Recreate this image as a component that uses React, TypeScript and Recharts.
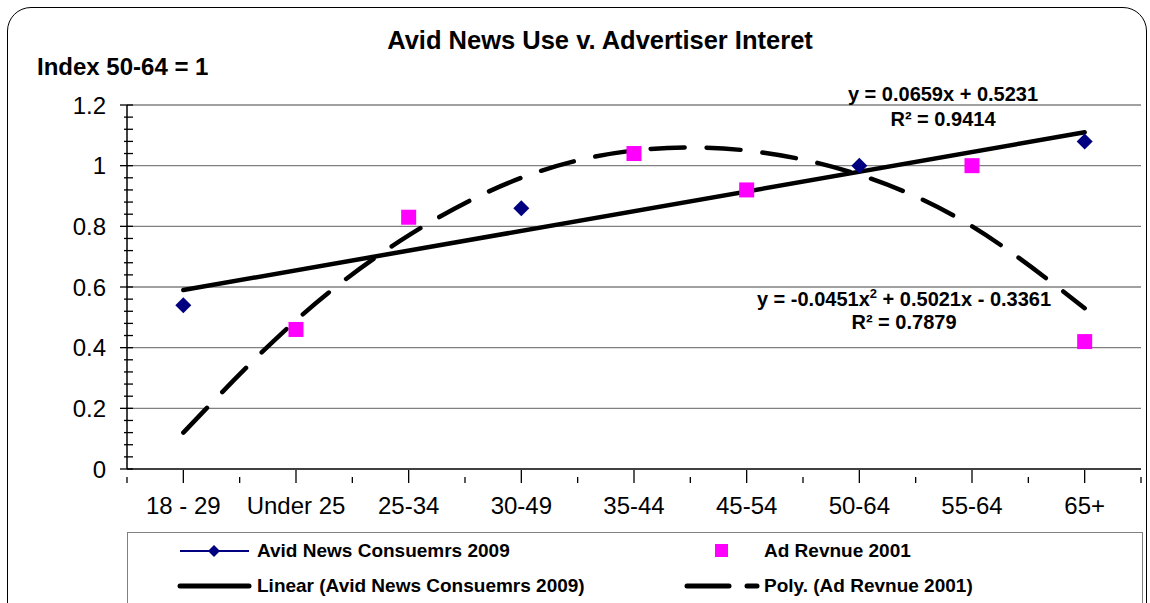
import React from "react";
import {
  CartesianGrid,
  Line,
  LineChart,
  XAxis,
  YAxis
} from "recharts";

// age groups on the x axis
const ageGroups = [
  "18 - 29",
  "Under 25",
  "25-34",
  "30-49",
  "35-44",
  "45-54",
  "50-64",
  "55-64",
  "65+"
];

// index values, 50-64 = 1
const avidNews2009 = [0.54, null, null, 0.86, null, null, 1.0, null, 1.08];
const adRevenue2001 = [null, 0.46, 0.83, null, 1.04, 0.92, null, 1.0, 0.42];

// trendlines as drawn by the spreadsheet
const linearTrend = [0.59, null, null, null, null, null, null, null, 1.11];
const polyTrend = [0.12, 0.49, 0.77, 0.96, 1.05, 1.05, 0.97, 0.8, 0.53];

const majorTicks = [0.2, 0.4, 0.6, 0.8, 1, 1.2];
const minorTicks = Array.from({ length: 31 }, (_, i) => Math.round(i * 4) / 100);

const data = ageGroups.map((age, i) => ({
  age,
  avid: avidNews2009[i],
  ad: adRevenue2001[i],
  linear: linearTrend[i],
  poly: polyTrend[i]
}));

const FONT = 'Arial, "Liberation Sans", sans-serif';
const NAVY = "#000080";
const MAGENTA = "#FF00FF";
const GRID = "#808080";
const AXIS_X = 127;

const Diamond = (props: any) => {
  const { cx, cy, index } = props;
  if (cx == null || cy == null) return <g key={`d${index}`} />;
  const r = 8;
  return (
    <polygon
      key={`d${index}`}
      points={`${cx},${cy - r} ${cx + r},${cy} ${cx},${cy + r} ${cx - r},${cy}`}
      fill={NAVY}
    />
  );
};

const Square = (props: any) => {
  const { cx, cy, index } = props;
  if (cx == null || cy == null) return <g key={`s${index}`} />;
  return (
    <rect key={`s${index}`} x={cx - 7.5} y={cy - 7.5} width={15} height={15} fill={MAGENTA} />
  );
};

const XTick = (props: any) => {
  const { x, y, payload } = props;
  const half = 1014 / 9 / 2;
  return (
    <g>
      <line x1={x} x2={x} y1={y - 7} y2={y + 6} stroke="#000" strokeWidth={1.3} />
      <line x1={x + half} x2={x + half} y1={y} y2={y + 6} stroke="#000" strokeWidth={1.3} />
      {payload.index === 0 && (
        <line x1={x - half} x2={x - half} y1={y} y2={y + 6} stroke="#000" strokeWidth={1.3} />
      )}
      <text x={x} y={y + 37} textAnchor="middle" fontSize={24} fontFamily={FONT} fill="#000">
        {payload.value}
      </text>
    </g>
  );
};

const YTick = (props: any) => {
  const { y, payload } = props;
  const v = payload.value;
  const major = Math.round(v * 100) % 20 === 0;
  return (
    <g>
      <line
        x1={major ? AXIS_X - 7 : AXIS_X - 3}
        x2={AXIS_X + 6}
        y1={y}
        y2={y}
        stroke="#000"
        strokeWidth={1.3}
      />
      {major && (
        <text x={AXIS_X - 21} y={y + 8.5} textAnchor="end" fontSize={24} fontFamily={FONT} fill="#000">
          {String(Math.round(v * 10) / 10)}
        </text>
      )}
    </g>
  );
};

const legendText: React.CSSProperties = {
  position: "absolute",
  fontSize: 19,
  fontWeight: "bold",
  fontFamily: FONT,
  lineHeight: "22px",
  whiteSpace: "nowrap"
};

const LegendBox = () => (
  <div
    style={{
      position: "absolute",
      left: 127,
      top: 532,
      width: 1014,
      height: 100,
      border: `1.5px solid ${GRID}`,
      background: "#fff"
    }}>
    <svg width={1014} height={100} style={{ position: "absolute", left: 0, top: 0 }}>
      <line x1={52} x2={121} y1={18} y2={18} stroke={NAVY} strokeWidth={2} />
      <polygon points="86,12 92,18 86,24 80,18" fill={NAVY} />
      <line x1={52} x2={121} y1={53} y2={53} stroke="#000" strokeWidth={5} strokeLinecap="round" />
      <rect x={587} y={11} width={13} height={13} fill={MAGENTA} />
      <line x1={559} x2={601} y1={53} y2={53} stroke="#000" strokeWidth={5} strokeLinecap="round" />
      <line x1={619} x2={629} y1={53} y2={53} stroke="#000" strokeWidth={5} strokeLinecap="round" />
    </svg>
    <div style={{ ...legendText, left: 129, top: 7 }}>Avid News Consuemrs 2009</div>
    <div style={{ ...legendText, left: 636, top: 7 }}>Ad Revnue 2001</div>
    <div style={{ ...legendText, left: 129, top: 42 }}>Linear (Avid News Consuemrs 2009)</div>
    <div style={{ ...legendText, left: 636, top: 42 }}>Poly. (Ad Revnue 2001)</div>
  </div>
);

const label: React.CSSProperties = {
  position: "absolute",
  fontFamily: FONT,
  fontWeight: "bold",
  color: "#000",
  whiteSpace: "nowrap",
  textAlign: "center"
};

export default function App() {
  return (
    <div
      style={{
        position: "fixed",
        left: 0,
        top: 0,
        width: 1150,
        height: 603,
        overflow: "hidden",
        background: "#fff"
      }}>
      <div
        style={{
          position: "absolute",
          left: 7,
          top: 7,
          width: 1140,
          height: 660,
          border: "1.5px solid #000",
          borderRadius: 24,
          boxSizing: "border-box"
        }}
      />
      <div style={{ position: "absolute", left: 0, top: 0 }}>
        <LineChart
          width={1150}
          height={603}
          data={data}
          margin={{ top: 105, right: 9, bottom: 94, left: 67 }}>
          <CartesianGrid
            yAxisId="left"
            vertical={false}
            horizontalValues={majorTicks}
            stroke={GRID}
            strokeWidth={1.3}
          />
          <XAxis
            dataKey="age"
            type="category"
            padding={{ left: 56.33, right: 56.33 }}
            height={40}
            axisLine={{ stroke: "#000", strokeWidth: 1.5 }}
            tickLine={false}
            tick={<XTick />}
            interval={0}
          />
          <YAxis
            yAxisId="left"
            type="number"
            domain={[0, 1.2]}
            ticks={minorTicks}
            interval={0}
            width={60}
            axisLine={{ stroke: "#000", strokeWidth: 1.5 }}
            tickLine={false}
            tick={<YTick />}
          />
          <YAxis
            yAxisId="right"
            orientation="right"
            domain={[0, 1.2]}
            width={0}
            tick={false}
            tickLine={false}
            axisLine={{ stroke: GRID, strokeWidth: 1.5 }}
          />
          <Line
            yAxisId="left"
            dataKey="poly"
            type="natural"
            stroke="#000"
            strokeWidth={4.5}
            strokeDasharray="34 22"
            strokeLinecap="round"
            dot={false}
            activeDot={false}
            isAnimationActive={false}
          />
          <Line
            yAxisId="left"
            dataKey="linear"
            type="linear"
            stroke="#000"
            strokeWidth={4.5}
            strokeLinecap="round"
            connectNulls
            dot={false}
            activeDot={false}
            isAnimationActive={false}
          />
          <Line
            yAxisId="left"
            dataKey="avid"
            name="Avid News Consuemrs 2009"
            stroke="none"
            dot={<Diamond />}
            activeDot={false}
            isAnimationActive={false}
          />
          <Line
            yAxisId="left"
            dataKey="ad"
            name="Ad Revnue 2001"
            stroke="none"
            dot={<Square />}
            activeDot={false}
            isAnimationActive={false}
          />
        </LineChart>
      </div>
      <LegendBox />
      <div style={{ ...label, left: 300, width: 600, top: 26, fontSize: 25.5 }}>
        Avid News Use v. Advertiser Interet
      </div>
      <div style={{ ...label, left: 37, top: 53, fontSize: 24, textAlign: "left" }}>
        Index 50-64 = 1
      </div>
      <div style={{ ...label, left: 793, width: 300, top: 82, fontSize: 20, lineHeight: "25px" }}>
        y = 0.0659x + 0.5231
        <br />
        R² = 0.9414
      </div>
      <div style={{ ...label, left: 704, width: 400, top: 288, fontSize: 20, lineHeight: "23px" }}>
        y = -0.0451x<sup style={{ fontSize: 13, lineHeight: 0 }}>2</sup> + 0.5021x - 0.3361
        <br />
        R² = 0.7879
      </div>
    </div>
  );
}
